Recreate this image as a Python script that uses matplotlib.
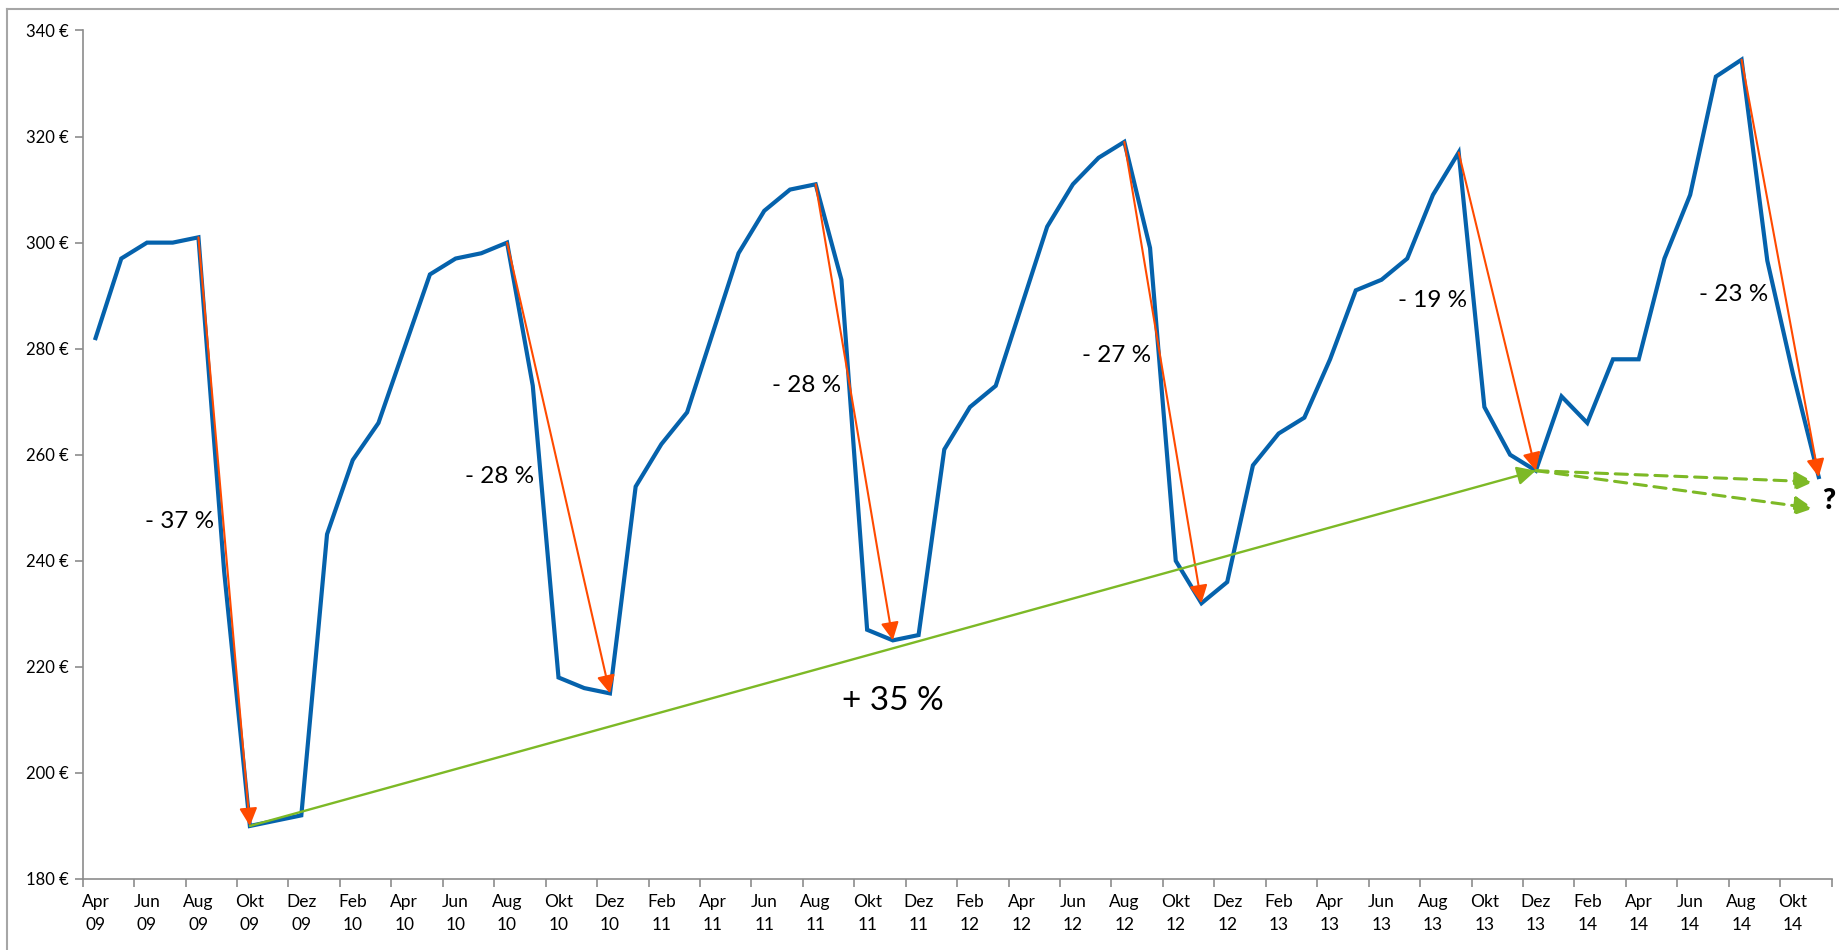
import matplotlib
matplotlib.use("Agg")
import matplotlib.pyplot as plt
from matplotlib.lines import Line2D

plt.rcParams['font.family'] = ['Lato', 'DejaVu Sans']

# monthly prices, Apr 2009 .. Nov 2014
month_names = ["Jan", "Feb", "Mär", "Apr", "Mai", "Jun",
               "Jul", "Aug", "Sep", "Okt", "Nov", "Dez"]
first_month = 3   # April
first_year = 9
prices = [282, 297, 300, 300, 301, 238, 190, 191, 192, 245, 259, 266,
          280, 294, 297, 298, 300, 273, 218, 216, 215, 254, 262, 268,
          283, 298, 306, 310, 311, 293, 227, 225, 226, 261, 269, 273,
          288, 303, 311, 316, 319, 299, 240, 232, 236, 258, 264, 267,
          278, 291, 293, 297, 309, 317, 269, 260, 257, 271, 266, 278,
          278, 297, 309, 331.3, 334.5, 296.6, 275.2, 255.8]

# drops: (peak index, trough index)
drops = [(4, 6), (16, 20), (28, 31), (40, 43), (53, 56), (64, 67)]
drop_labels = ["- 37 %", "- 28 %", "- 28 %", "- 27 %", "- 19 %", "- 23 %"]
drop_label_pos = [(3.27, 247.5), (15.7, 255.9), (27.66, 273.0),
                  (39.7, 278.7), (51.97, 289.0), (63.7, 290.2)]

# long-term trend (low to low) and two guesses for the future
trend_start, trend_end = 6, 56
trend_label = "+ 35 %"
outlook_values = [254.9, 249.9]
outlook_x = 66.8

blue = "#0562AC"
orange = "#FF4A00"
green = "#7DB926"
axis_grey = "#8C8C8C"

fig = plt.figure(figsize=(18.39, 9.5), dpi=100)
ax = fig.add_axes([82.7 / 1839, 1 - 879 / 950, (1831.6 - 82.7) / 1839, (879 - 30.5) / 950])

x = list(range(len(prices)))
ax.plot(x, prices, color=blue, lw=3.0, solid_joinstyle="miter", zorder=3)

for (p, t), lab, pos in zip(drops, drop_labels, drop_label_pos):
    ax.annotate("", xy=(t, prices[t]), xytext=(p, prices[p]),
                arrowprops=dict(arrowstyle="-|>", color=orange, lw=1.5,
                                mutation_scale=27, shrinkA=0, shrinkB=0),
                zorder=4)
    ax.text(pos[0], pos[1], lab, fontsize=17.5, ha="center", va="center")

ax.annotate("", xy=(trend_end, prices[trend_end]), xytext=(trend_start, prices[trend_start]),
            arrowprops=dict(arrowstyle="-|>", color=green, lw=1.7,
                            mutation_scale=28, shrinkA=0, shrinkB=0),
            zorder=4)
ax.text(31, 213.5, trend_label, fontsize=24, ha="center", va="center")

for v in outlook_values:
    ax.annotate("", xy=(outlook_x, v), xytext=(trend_end, prices[trend_end]),
                arrowprops=dict(arrowstyle="-|>", color=green, lw=2.2, ls=(0, (4, 2.5)),
                                mutation_scale=28, shrinkA=0, shrinkB=0),
                zorder=4)
ax.text(67.4, 251.3, "?", fontsize=20, fontweight="heavy", ha="center", va="center")

# axes styling, Excel-like
ax.set_xlim(-0.5, len(prices) - 0.5)
ax.set_ylim(180, 340)
ax.set_yticks(range(180, 341, 20))
ax.set_yticklabels([f"{v} €" for v in range(180, 341, 20)])
ax.set_xticks([i - 0.5 for i in range(0, len(prices) + 1, 2)])
ax.set_xticklabels([])
labels = []
for i in range(0, len(prices), 2):
    m = (first_month + i) % 12
    y = first_year + (first_month + i) // 12
    labels.append(f"{month_names[m]}\n{y:02d}")
ax.set_xticks(range(0, len(prices), 2), minor=True)
ax.set_xticklabels(labels, minor=True, linespacing=1.5)
ax.tick_params(axis="x", which="minor", length=0, pad=11, labelsize=12.5)
ax.tick_params(axis="x", which="major", length=6, width=1.2, color=axis_grey)
ax.tick_params(axis="y", length=6, width=1.2, color=axis_grey, labelsize=12, pad=4)
for side in ["top", "right"]:
    ax.spines[side].set_visible(False)
for side in ["left", "bottom"]:
    ax.spines[side].set_color(axis_grey)
    ax.spines[side].set_linewidth(1.2)

# chart area border
fig.add_artist(Line2D([6.5 / 1839, 6.5 / 1839], [0, 1 - 8.5 / 950], color="#A6A6A6", lw=1.5))
fig.add_artist(Line2D([6.5 / 1839, 1], [1 - 8.5 / 950, 1 - 8.5 / 950], color="#A6A6A6", lw=1.5))

fig.savefig("out.png", dpi=100)
